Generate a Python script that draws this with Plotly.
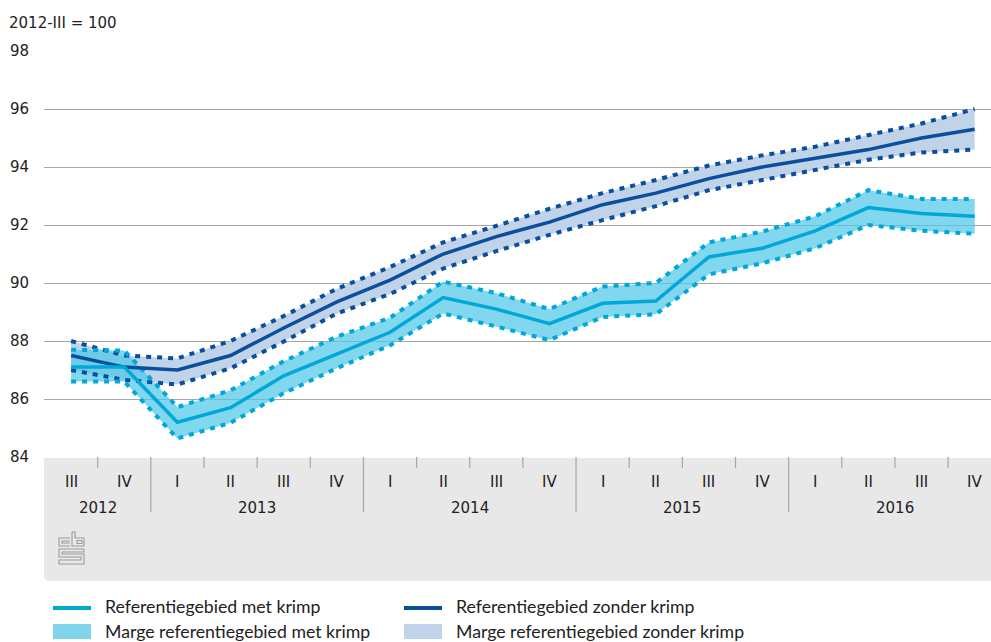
import plotly.graph_objects as go

# Quarters from 2012-III to 2016-IV (index, 2012-III = 100)
quarters = ["III", "IV",
            "I", "II", "III", "IV",
            "I", "II", "III", "IV",
            "I", "II", "III", "IV",
            "I", "II", "III", "IV"]
years = ["2012", "2013", "2014", "2015", "2016"]
quarters_per_year = [2, 4, 4, 4, 4]

# Referentiegebied zonder krimp: value and margin bounds
zonder = [87.5, 87.1, 87.0, 87.5, 88.45, 89.35, 90.1, 91.0, 91.6,
          92.1, 92.7, 93.1, 93.6, 94.0, 94.3, 94.6, 95.0, 95.3]
zonder_hoog = [88.0, 87.5, 87.4, 88.0, 88.86, 89.8, 90.55, 91.4, 91.97,
               92.56, 93.1, 93.55, 94.05, 94.4, 94.7, 95.1, 95.5, 96.0]
zonder_laag = [87.0, 86.66, 86.5, 87.06, 87.98, 88.95, 89.62, 90.5, 91.1,
               91.66, 92.17, 92.65, 93.2, 93.55, 93.9, 94.25, 94.5, 94.6]

# Referentiegebied met krimp: value and margin bounds
met = [87.1, 87.1, 85.2, 85.7, 86.8, 87.55, 88.3, 89.5, 89.1,
       88.6, 89.3, 89.38, 90.9, 91.2, 91.8, 92.6, 92.4, 92.3]
met_hoog = [87.7, 87.67, 85.72, 86.3, 87.3, 88.15, 88.8, 90.05, 89.65,
            89.1, 89.88, 90.0, 91.4, 91.77, 92.3, 93.2, 92.9, 92.9]
met_laag = [86.6, 86.6, 84.64, 85.18, 86.2, 87.06, 87.85, 88.95, 88.5,
            88.03, 88.83, 88.92, 90.3, 90.68, 91.2, 92.0, 91.8, 91.7]

y_ticks = [84, 86, 88, 90, 92, 94, 96, 98]

# Colours
DARK = "#0a4f9e"
LIGHT = "#00a8da"
DARK_BAND = "#c1d3e8"
LIGHT_BAND = "rgba(80,200,232,0.72)"
LIGHT_BAND_SWATCH = "#80d4ec"
AXIS_BG = "#e8e8e8"
TICK_GREY = "#a6a6a6"
TEXT = "#222222"

# Page geometry (pixels)
W, H = 991, 642
ML, MT, MB = 44, 51, 185
PW = W - ML
PH = H - MT - MB


def px(xp):
    return (xp - ML) / PW


def py(yp):
    return (H - MB - yp) / PH


x = list(range(len(quarters)))

fig = go.Figure()


def band(lo, hi, color):
    fig.add_trace(go.Scatter(
        x=x + x[::-1], y=hi + lo[::-1], fill="toself", fillcolor=color,
        mode="lines", line=dict(width=0), hoverinfo="skip", showlegend=False))


def line(vals, color, width, dash=None):
    fig.add_trace(go.Scatter(
        x=x, y=vals, mode="lines",
        line=dict(color=color, width=width, dash=dash),
        hoverinfo="skip", showlegend=False))


band(zonder_laag, zonder_hoog, DARK_BAND)
band(met_laag, met_hoog, LIGHT_BAND)
line(zonder_hoog, DARK, 4, "5px,6px")
line(zonder_laag, DARK, 4, "5px,6px")
line(met_hoog, LIGHT, 4, "5px,6px")
line(met_laag, LIGHT, 4, "5px,6px")
line(zonder, DARK, 3.5)
line(met, LIGHT, 3.5)

shapes = []
annotations = []
AX_FONT = dict(family="DejaVu Sans", size=15, color=TEXT)

# Grey category-axis panel with rounded lower-left corner
r = 6
x0, x1, y0, y1 = px(44), px(W + 2), py(458), py(581)
rx, ry = r / PW, r / PH
shapes.append(dict(
    type="path", xref="paper", yref="paper", layer="below",
    path=(f"M {x0},{y0} L {x1},{y0} L {x1},{y1} L {x0 + rx},{y1} "
          f"Q {x0},{y1} {x0},{y1 + ry} Z"),
    fillcolor=AXIS_BG, line=dict(width=0)))

# Quarter and year separators
year_bounds = []
acc = 0
for n in quarters_per_year[:-1]:
    acc += n
    year_bounds.append(acc - 0.5)
for i in range(len(quarters) - 1):
    xb = i + 0.5
    bottom = 512 if xb in year_bounds else 468
    shapes.append(dict(type="line", xref="x", yref="paper",
                       x0=xb, x1=xb, y0=py(457), y1=py(bottom),
                       line=dict(color=TICK_GREY, width=1.2)))

# Quarter labels
for i, q in enumerate(quarters):
    annotations.append(dict(x=i, y=py(481.5), xref="x", yref="paper",
                            yanchor="middle", text=q, showarrow=False,
                            font=AX_FONT))
# Year labels
start = 0
for yr, n in zip(years, quarters_per_year):
    annotations.append(dict(x=start + (n - 1) / 2, y=py(508), xref="x",
                            yref="paper", yanchor="middle", text=yr,
                            showarrow=False, font=AX_FONT))
    start += n

# Unit label above the value axis
annotations.append(dict(x=px(7), y=py(23), xref="paper", yref="paper",
                        xanchor="left", yanchor="middle",
                        text="2012-III = 100", showarrow=False,
                        font=AX_FONT))

# Small cbs mark in the axis panel
LOGO_X, LOGO_Y = 58, 532
logo_paths = [
    # c
    [(12, 6), (1, 6), (1, 14), (12, 14)],
    [(12, 9), (4, 9), (4, 11), (12, 11)],
    # b
    [(14, 0), (17, 0), (17, 6), (26, 6), (26, 14), (14, 14), (14, 0)],
    [(19, 8.5), (24, 8.5), (24, 11.5), (19, 11.5), (19, 8.5)],
    # s
    [(26, 17), (1, 17), (1, 25), (23, 25), (23, 28), (1, 28),
     (1, 32), (26, 32), (26, 22), (4, 22), (4, 20), (26, 20), (26, 17)],
]
for pts in logo_paths:
    d = "M " + " L ".join(f"{px(LOGO_X + a)},{py(LOGO_Y + b)}" for a, b in pts)
    shapes.append(dict(type="path", xref="paper", yref="paper", path=d,
                       line=dict(color="#9a9a9a", width=1.1)))

# Legend
LEG_FONT = dict(family="Lato", size=17.7, color=TEXT)
legend_items = [
    ("line", LIGHT, 53, 606, "Referentiegebied met krimp"),
    ("line", DARK, 404, 606, "Referentiegebied zonder krimp"),
    ("box", LIGHT_BAND_SWATCH, 53, 631, "Marge referentiegebied met krimp"),
    ("box", DARK_BAND, 404, 631, "Marge referentiegebied zonder krimp"),
]
for kind, color, lx, ly, label in legend_items:
    if kind == "line":
        shapes.append(dict(type="line", xref="paper", yref="paper",
                           x0=px(lx), x1=px(lx + 38), y0=py(ly + 2), y1=py(ly + 2),
                           line=dict(color=color, width=4)))
    else:
        shapes.append(dict(type="rect", xref="paper", yref="paper",
                           x0=px(lx), x1=px(lx + 38), y0=py(ly - 7), y1=py(ly + 8),
                           fillcolor=color, line=dict(width=0)))
    annotations.append(dict(x=px(lx + 50), y=py(ly), xref="paper",
                            yref="paper", xanchor="left", yanchor="middle",
                            text=label, showarrow=False, font=LEG_FONT))

fig.update_layout(
    width=W, height=H,
    margin=dict(l=ML, r=0, t=MT, b=MB, pad=0),
    paper_bgcolor="white", plot_bgcolor="white",
    font=dict(family="DejaVu Sans", size=15, color=TEXT),
    showlegend=False,
    xaxis=dict(range=[-0.51, 17.307], showgrid=False, zeroline=False,
               showticklabels=False, showline=False, fixedrange=True),
    yaxis=dict(range=[84, 98], tickvals=y_ticks, showgrid=True,
               gridcolor=TICK_GREY, gridwidth=1, zeroline=False,
               showline=False, ticks="", ticklabelstandoff=14,
               tickfont=dict(size=15, color=TEXT), fixedrange=True),
    shapes=shapes, annotations=annotations,
)

fig.write_html("out.html", config={"displayModeBar": False})
